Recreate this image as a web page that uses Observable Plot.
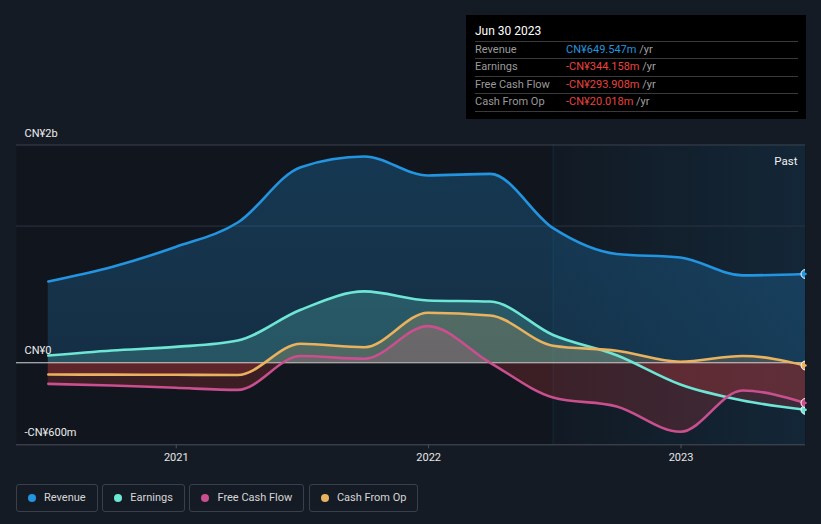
<!DOCTYPE html>
<html><head><meta charset="utf-8">
<script src="https://cdn.jsdelivr.net/npm/d3@7"></script>
<script src="https://cdn.jsdelivr.net/npm/@observablehq/plot@0.6"></script>
<style>
html,body{margin:0;background:#151b25;font-family:Roboto,"Noto Sans",sans-serif;}
#wrap{position:relative;width:821px;height:524px;overflow:hidden;background:#151b25}
#tip{position:absolute;left:466px;top:15px;width:340px;height:104px;background:#000;box-sizing:border-box;padding:0 8px 0 9px;}
#tip .t{height:26px;line-height:32px;color:#fff;font-size:12px;font-weight:normal;}
#tip .row{display:flex;height:17.4px;line-height:16.4px;border-top:1px solid #3a3a3a;box-sizing:border-box;font-size:11px;}
#tip .row:last-child{border-bottom:1px solid #3a3a3a;height:18.4px}
#tip .lab{width:91px;color:#9a9a9a}
#tip .unit{color:#a0a0a0}
#legend{position:absolute;left:16px;top:483.5px;display:flex;gap:4.6px}
#legend .it{height:28px;box-sizing:border-box;border:1px solid #3a404b;border-radius:3px;padding:0 11px;display:flex;align-items:center;gap:8px;font-size:11px;color:#d6d6d6}
#legend .dot{width:8px;height:8px;border-radius:50%}
</style></head><body>
<div id="wrap"><div id="chart"></div><div id="tip"></div><div id="legend"></div></div>
<script>
// ---- data (CN¥ millions, trailing twelve months) ----
const dates = ["2020-06-30","2020-09-30","2020-12-31","2021-03-31","2021-06-30","2021-09-30","2021-12-31","2022-03-31","2022-06-30","2022-09-30","2022-12-31","2023-03-31","2023-06-30"];
const revenue  = [595, 701, 847, 1026, 1431, 1509, 1370, 1382, 985, 796, 770, 639, 649.547];
const earnings = [53, 90, 116, 163, 388, 522, 456, 448, 203, 55, -159, -276, -344.158];
const freeCashFlow = [-154, -166, -183, -198, 50, 29, 268, 0, -254, -320, -505, -203, -293.908];
const cashFromOp = [-86, -87, -88, -89, 139, 114, 366, 346, 125, 88, 8, 50, -20.018];
const seriesNames = ["Revenue", "Earnings", "Free Cash Flow", "Cash From Op"];
const seriesColors = ["#2394df", "#6ee6d5", "#c94f8e", "#e9b25f"];
const xTickYears = ["2021-01-01", "2022-01-01", "2023-01-01"];
const yTicks = [1593, 0, -600];
const pastStart = "2022-06-30";
const tipDate = "Jun 30 2023";

const parse = d3.utcParse("%Y-%m-%d");
const D = dates.map(parse);
const valuesBySeries = [revenue, earnings, freeCashFlow, cashFromOp];
const series = seriesNames.map((name, i) => ({
  name, color: seriesColors[i], id: "g" + i,
  data: D.map((d, j) => ({date: d, value: valuesBySeries[i][j]}))
}));

const fmtY = v => v === 0 ? "CN¥0" : (v < 0 ? "-" : "") + "CN¥" +
  (Math.abs(v) >= 1000 ? d3.format(".1r")(Math.abs(v) / 1000) + "b" : d3.format(".1r")(Math.abs(v)) + "m");

function defs(index, scales, values, dims) {
  const top = dims.marginTop, bot = dims.height - dims.marginBottom;
  const off = (scales.y(0) - top) / (bot - top);
  const g = d3.create("svg:defs");
  for (const s of series) {
    const lg = g.append("linearGradient").attr("id", s.id).attr("gradientUnits", "userSpaceOnUse")
      .attr("x1", 0).attr("x2", 0).attr("y1", top).attr("y2", bot);
    lg.append("stop").attr("offset", 0).attr("stop-color", s.color).attr("stop-opacity", 0.27);
    lg.append("stop").attr("offset", off).attr("stop-color", s.color).attr("stop-opacity", 0.2);
    lg.append("stop").attr("offset", off).attr("stop-color", "#e53e3e").attr("stop-opacity", 0.2);
    lg.append("stop").attr("offset", 1).attr("stop-color", "#e53e3e").attr("stop-opacity", 0.2);
  }
  const pg = g.append("linearGradient").attr("id", "past").attr("x1", 0).attr("x2", 1).attr("y1", 0).attr("y2", 0);
  pg.append("stop").attr("offset", 0).attr("stop-color", "#2394df").attr("stop-opacity", 0.03);
  pg.append("stop").attr("offset", 1).attr("stop-color", "#2394df").attr("stop-opacity", 0.13);
  return g.node();
}

const xDomain = [parse("2020-05-15"), parse("2023-06-30")];
const chart = Plot.plot({
  width: 821, height: 472,
  marginLeft: 16, marginRight: 16, marginTop: 144.5, marginBottom: 27.7,
  style: {background: "transparent", fontFamily: "Roboto, sans-serif"},
  x: {type: "utc", domain: xDomain},
  y: {domain: [-600, yTicks[0]]},
  marks: [
    defs,
    Plot.frame({fill: "#11161e", stroke: null}),
    Plot.rect([{x1: parse(pastStart), x2: xDomain[1]}], {x1: "x1", x2: "x2", fill: "url(#past)"}),
    Plot.ruleX([parse(pastStart)], {stroke: "#2394df", strokeOpacity: 0.12}),
    Plot.ruleY([1000], {stroke: "#2a3442", strokeWidth: 1}),
    Plot.ruleY([yTicks[0]], {stroke: "#3a414c", strokeWidth: 1}),
    ...series.map(s => Plot.areaY(s.data, {x: "date", y: "value", fill: `url(#${s.id})`, curve: "monotone-x"})),
    Plot.ruleY([0], {stroke: "#d6d6d6", strokeWidth: 1}),
    Plot.ruleY([-600], {stroke: "#4b515c", strokeWidth: 1}),
    ...series.map(s => Plot.line(s.data, {x: "date", y: "value", stroke: s.color, strokeWidth: 2.6, curve: "monotone-x"})),
    ...series.map(s => Plot.dot(s.data.slice(-1), {x: "date", y: "value", r: 4.5, fill: s.color, stroke: "#fff", strokeWidth: 1, clip: true})),
    Plot.text(["Past"], {frameAnchor: "top-right", dx: -8, dy: 12, fill: "#f0f0f0", fontSize: 11.5}),
    Plot.axisY(yTicks, {anchor: "left", tickSize: 0, tickPadding: -8, textAnchor: "start", dy: -12, tickFormat: fmtY, fill: "#ececec", fontSize: 11, label: null}),
    Plot.axisX(xTickYears.map(parse), {tickSize: 4, tickPadding: 4, tickFormat: d3.utcFormat("%Y"), stroke: "#4b515c", fill: "#e6e6e6", fontSize: 11, label: null})
  ]
});
document.getElementById("chart").appendChild(chart);

// tooltip
const tip = d3.select("#tip");
tip.append("div").attr("class", "t").text(tipDate);
series.forEach(s => {
  const v = s.data[s.data.length - 1].value;
  const r = tip.append("div").attr("class", "row");
  r.append("div").attr("class", "lab").text(s.name);
  r.append("span").style("color", v < 0 ? "#e8433f" : s.color)
    .text((v < 0 ? "-" : "") + "CN¥" + d3.format(".3f")(Math.abs(v)) + "m");
  r.append("span").attr("class", "unit").html("&nbsp;/yr");
});

// legend
const lg = d3.select("#legend");
series.forEach(s => {
  const it = lg.append("div").attr("class", "it");
  it.append("div").attr("class", "dot").style("background", s.color);
  it.append("span").text(s.name);
});
</script>
</body></html>
